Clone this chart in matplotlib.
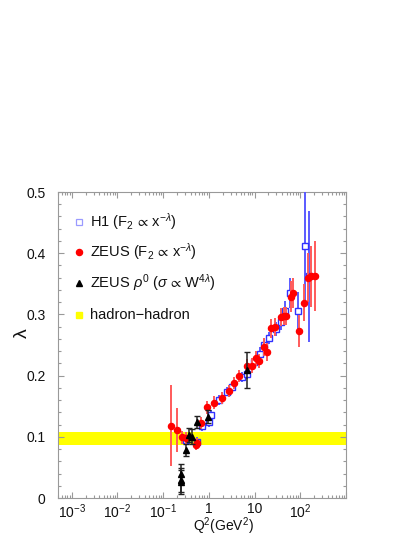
import matplotlib
matplotlib.use("Agg")
import matplotlib.pyplot as plt
from matplotlib.ticker import FixedLocator, FixedFormatter, LogLocator, MultipleLocator, NullFormatter
from matplotlib.lines import Line2D

plt.rcParams['font.family'] = ['Liberation Sans', 'DejaVu Sans']
plt.rcParams['mathtext.fontset'] = 'custom'
plt.rcParams['mathtext.rm'] = 'Liberation Sans'
plt.rcParams['mathtext.it'] = 'Liberation Sans:italic'
plt.rcParams['mathtext.fallback'] = 'stixsans'

# ---------------- data ----------------
h1_q2 = [0.31, 0.56, 0.72, 1.0, 1.09, 1.66, 2.44, 3.26, 5.4, 6.7, 9.7, 13.1, 16, 20.7,
         29, 37, 46.5, 60, 91, 127, 156]
h1_lam = [0.095, 0.092, 0.117, 0.124, 0.136, 0.160, 0.174, 0.182, 0.198, 0.203, 0.223,
          0.236, 0.250, 0.261, 0.276, 0.288, 0.306, 0.335, 0.306, 0.411, 0.362]
h1_err = [0.008, 0.008, 0.008, 0.008, 0.008, 0.008, 0.008, 0.008, 0.008, 0.008, 0.008,
          0.010, 0.010, 0.010, 0.012, 0.014, 0.016, 0.025, 0.030, 0.090, 0.107]

zeus_q2 = [0.15, 0.20, 0.26, 0.31, 0.51, 0.56, 0.66, 0.92, 1.29, 1.97, 2.75, 3.5, 4.55,
           6.7, 8.9, 10.5, 12.5, 16, 19, 22.6, 27.6, 37, 44, 49.6, 62, 71, 94, 121,
           148, 170, 211]
zeus_lam = [0.118, 0.111, 0.099, 0.098, 0.087, 0.090, 0.122, 0.148, 0.156, 0.164, 0.175,
            0.188, 0.199, 0.215, 0.216, 0.228, 0.224, 0.247, 0.239, 0.277, 0.279, 0.296,
            0.297, 0.297, 0.329, 0.335, 0.273, 0.319, 0.360, 0.362, 0.363]
zeus_err = [0.066, 0.036, 0.010, 0.010, 0.008, 0.008, 0.010, 0.010, 0.010, 0.010, 0.010,
            0.010, 0.010, 0.012, 0.012, 0.012, 0.012, 0.015, 0.015, 0.015, 0.015, 0.015,
            0.015, 0.015, 0.025, 0.025, 0.026, 0.030, 0.040, 0.050, 0.057]

rho_q2 = [0.24, 0.24, 0.245, 0.31, 0.365, 0.43, 0.56, 0.95, 6.9]
rho_lam = [0.040, 0.029, 0.026, 0.079, 0.103, 0.100, 0.124, 0.133, 0.209]
rho_err = [0.015, 0.020, 0.020, 0.010, 0.012, 0.012, 0.010, 0.010, 0.030]

hh_band = [0.0865, 0.1075]

x_ticks = [1e-3, 1e-2, 1e-1, 1, 10, 100]
x_ticklabels = [r'$10^{-3}$', r'$10^{-2}$', r'$10^{-1}$', '1', '10', r'$10^{2}$']
y_ticks = [0, 0.1, 0.2, 0.3, 0.4, 0.5]
y_ticklabels = ['0', '0.1', '0.2', '0.3', '0.4', '0.5']

legend_labels = [r'H1 (F$_2$$\,\propto\,$x$^{-\lambda}$)',
                 r'ZEUS (F$_2$$\,\propto\,$x$^{-\lambda}$)',
                 r'ZEUS $\rho^0$ ($\sigma\,\propto\,$W$^{4\lambda}$)',
                 'hadron\u2212hadron']

# ---------------- figure ----------------
fig = plt.figure(figsize=(4.15, 5.37), dpi=100)
ax = fig.add_axes([58/415, 1-498/537, 288/415, 306/537])
ax.set_xscale('log')
ax.set_xlim(5e-4, 1e3)
ax.set_ylim(0, 0.5)

ax.axhspan(hh_band[0], hh_band[1], color='#ffff00', lw=0, zorder=1)

ax.errorbar(h1_q2, h1_lam, yerr=h1_err, fmt='s', ms=5, mfc='white', mec='#3030ff',
            mew=1.0, ecolor='#5a5aff', elinewidth=1.4, capsize=0, zorder=3)
ax.errorbar(zeus_q2, zeus_lam, yerr=zeus_err, fmt='o', ms=4.4, mfc='#ff0000', mec='#ff0000',
            ecolor='#ff5a5a', elinewidth=1.4, capsize=0, zorder=4)
ax.errorbar(rho_q2, rho_lam, yerr=rho_err, fmt='^', ms=4.3, mfc='black', mec='black',
            ecolor='#222222', elinewidth=1.1, capsize=2.5, capthick=1.0, zorder=5)

# axes styling
for s in ax.spines.values():
    s.set_color('#999999')
    s.set_linewidth(0.8)
ax.xaxis.set_major_locator(FixedLocator(x_ticks + [1e3]))
ax.xaxis.set_major_formatter(FixedFormatter(x_ticklabels + ['']))
ax.xaxis.set_minor_locator(LogLocator(base=10, subs=[2, 3, 4, 5, 6, 7, 8, 9], numticks=20))
ax.xaxis.set_minor_formatter(NullFormatter())
ax.yaxis.set_major_locator(FixedLocator(y_ticks))
ax.yaxis.set_major_formatter(FixedFormatter(y_ticklabels))
ax.yaxis.set_minor_locator(MultipleLocator(0.02))
ax.tick_params(which='both', direction='in', top=True, right=True, color='#999999', width=0.8)
ax.tick_params(which='major', length=4)
ax.tick_params(which='minor', length=2)
ax.tick_params(axis='y', which='major', labelsize=10, pad=9, labelcolor='#111111')
ax.tick_params(axis='x', which='major', labelsize=10, pad=3, labelcolor='#111111')

ax.set_xlabel(r'Q$^2$(GeV$^2$)', fontsize=10, color='#111111')
ax.xaxis.set_label_coords(0.575, -0.058)
ax.set_ylabel('\u03bb', fontsize=14, color='#111111')
ax.yaxis.set_label_coords(-0.095, 0.54)

# legend
leg_y = [0.902, 0.804, 0.703, 0.598]
leg_styles = [dict(marker='s', ms=5, mfc='white', mec='#9a9aff', mew=0.9),
              dict(marker='o', ms=4.4, mfc='#ff0000', mec='#ff0000'),
              dict(marker='^', ms=4.3, mfc='black', mec='black'),
              dict(marker='s', ms=4.3, mfc='#ffff00', mec='#ffff00')]
for yy, lab, st in zip(leg_y, legend_labels, leg_styles):
    ax.add_line(Line2D([0.073], [yy], transform=ax.transAxes, ls='none', zorder=6, **st))
    ax.text(0.111, yy, lab, transform=ax.transAxes, fontsize=10.5, va='center', ha='left',
            color='#111111')

fig.savefig('out.png', dpi=100)
